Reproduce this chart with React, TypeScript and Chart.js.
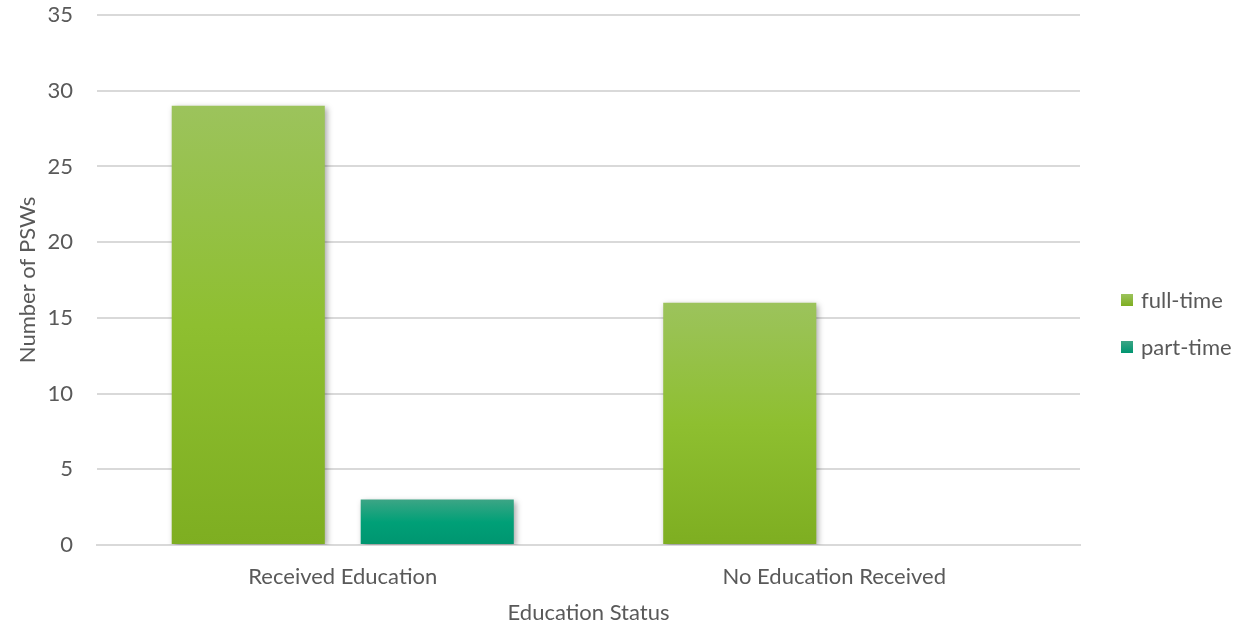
import React, { useEffect, useRef } from "react";
import { Chart, registerables } from "chart.js";

Chart.register(...registerables);

const categories = ["Received Education", "No Education Received"];
const seriesNames = ["full-time", "part-time"];
const fullTime = [29, 16];
const partTime = [3, 0];
const yTicks = [0, 5, 10, 15, 20, 25, 30, 35];

const FONT = "Lato";
const FS = 22;
const TEXT = "#595959";
const GRID = "#D9D9D9";

const gradStops: Record<string, [string, string, string]> = {
  "full-time": ["#9CC35C", "#8EBF30", "#7EAE21"],
  "part-time": ["#3CA585", "#00A077", "#009570"],
};

function barGradient(ctx: any, name: string) {
  const chart = ctx.chart;
  const y = chart.scales?.y;
  if (!y || ctx.type !== "data") return gradStops[name][1];
  const v = ctx.raw as number;
  const top = y.getPixelForValue(v);
  const bot = y.getPixelForValue(0);
  if (!isFinite(top) || !isFinite(bot) || Math.abs(bot - top) < 1) return gradStops[name][1];
  const g = chart.ctx.createLinearGradient(0, top, 0, bot);
  const s = gradStops[name];
  g.addColorStop(0, s[0]);
  g.addColorStop(0.5, s[1]);
  g.addColorStop(1, s[2]);
  return g;
}

const shadowPlugin = {
  id: "barShadow",
  beforeDatasetsDraw(chart: any) {
    const c = chart.ctx;
    c.save();
    c.shadowColor = "rgba(0,0,0,0.35)";
    c.shadowBlur = 6;
    c.shadowOffsetX = 2;
    c.shadowOffsetY = 2;
  },
  afterDatasetsDraw(chart: any) {
    chart.ctx.restore();
  },
};

const legendPlugin = {
  id: "customLegend",
  afterDraw(chart: any) {
    const c = chart.ctx;
    const x0 = 1121;
    const ys = [300, 347];
    c.save();
    chart.data.datasets.forEach((ds: any, i: number) => {
      const s = gradStops[ds.label];
      const g = c.createLinearGradient(0, ys[i] - 6, 0, ys[i] + 6);
      g.addColorStop(0, s[0]);
      g.addColorStop(1, s[2]);
      c.fillStyle = g;
      c.fillRect(x0, ys[i] - 6, 12, 12);
      c.fillStyle = TEXT;
      c.font = `${FS}px ${FONT}`;
      c.textBaseline = "middle";
      c.textAlign = "left";
      c.fillText(ds.label, x0 + 20, ys[i] + 1);
    });
    c.restore();
  },
};

export default function App() {
  const ref = useRef<HTMLCanvasElement>(null);
  useEffect(() => {
    document.body.style.margin = "0";
    const chart = new Chart(ref.current!, {
      type: "bar",
      data: {
        labels: categories,
        datasets: [
          {
            label: seriesNames[0],
            data: fullTime,
            backgroundColor: (ctx: any) => barGradient(ctx, seriesNames[0]),
            categoryPercentage: 0.769,
            barPercentage: 0.81,
          },
          {
            label: seriesNames[1],
            data: partTime,
            backgroundColor: (ctx: any) => barGradient(ctx, seriesNames[1]),
            categoryPercentage: 0.769,
            barPercentage: 0.81,
          },
        ],
      },
      options: {
        responsive: false,
        animation: false,
        layout: { padding: { top: 15, right: 159, bottom: 0, left: 0 } },
        plugins: {
          legend: { display: false },
          tooltip: { enabled: false },
        },
        scales: {
          x: {
            grid: { display: false, drawTicks: false },
            border: { display: true, color: GRID, width: 2 },
            ticks: { color: TEXT, font: { family: FONT, size: FS }, padding: 19 },
            title: {
              display: true,
              text: "Education Status",
              color: TEXT,
              font: { family: FONT, size: FS },
              padding: { top: 0, bottom: 2 },
            },
            afterFit: (s: any) => {
              s.height = 83;
              s.paddingLeft = 0;
              s.paddingRight = 0;
            },
          },
          y: {
            min: 0,
            max: 35,
            afterBuildTicks: (s: any) => {
              s.ticks = yTicks.map((v) => ({ value: v }));
            },
            grid: { color: GRID, lineWidth: 2, drawTicks: false },
            border: { display: false },
            ticks: { color: TEXT, font: { family: FONT, size: FS }, padding: 24 },
            title: {
              display: true,
              text: "Number of PSWs",
              color: TEXT,
              font: { family: FONT, size: FS },
              padding: { top: 15, bottom: 0 },
            },
            afterFit: (s: any) => {
              s.width = 97;
              s.paddingTop = 0;
              s.paddingBottom = 0;
            },
          },
        },
      },
      plugins: [shadowPlugin, legendPlugin],
    });
    return () => chart.destroy();
  }, []);
  return <canvas ref={ref} width={1239} height={628} style={{ display: "block" }} />;
}
